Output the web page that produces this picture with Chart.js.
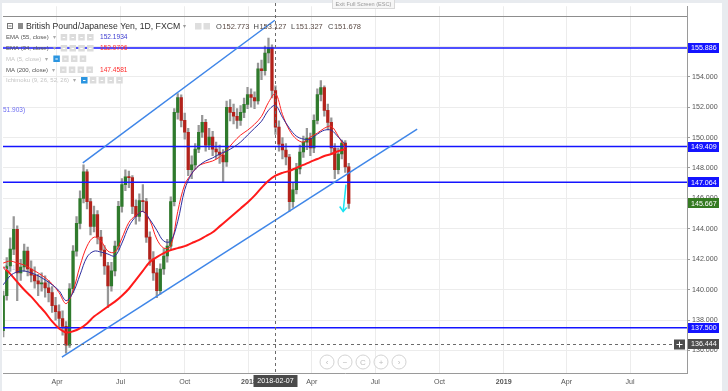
<!DOCTYPE html>
<html><head><meta charset="utf-8">
<script src="https://cdn.jsdelivr.net/npm/chart.js@4.4.1/dist/chart.umd.min.js"></script>
<style>html,body{margin:0;padding:0;background:#fff;overflow:hidden}canvas{display:block}</style>
</head><body>
<canvas id="c" width="728" height="391"></canvas>
<script>
// ---------------- DATA (x = calendar days since 2017-01-01) ----------------
const startDay = 13;      // first drawn candle
const candleStep = 5;     // days between drawn candles
const firstOpen = 137.30;
const closes = [
139.60,141.56,142.66,143.97,141.10,141.49,142.53,141.36,140.95,140.58,
140.38,140.45,140.12,139.80,138.95,138.56,138.10,137.58,136.35,140.06,
142.53,144.36,145.99,147.75,145.79,144.16,144.94,143.45,142.60,141.56,
140.25,141.23,142.86,145.47,146.90,147.42,147.36,145.47,144.81,145.86,
145.79,143.45,142.01,141.10,139.93,141.36,142.21,142.86,145.79,151.65,
152.63,151.13,150.35,147.88,148.20,149.24,150.35,151.00,149.50,150.03,
149.24,149.05,148.85,148.40,151.98,151.65,151.40,151.13,151.65,152.18,
152.83,152.63,152.40,154.52,154.39,155.56,155.89,153.09,150.68,149.57,
149.18,148.72,145.79,146.57,147.94,149.05,149.70,149.96,149.31,151.13,
152.83,153.28,151.79,151.00,149.31,147.88,148.92,149.64,148.07,145.67];
const highs = [
139.9,142.1,143.4,144.81,144.2,142.0,143.0,142.8,141.9,141.5,
141.0,141.1,140.9,140.6,140.2,139.5,139.0,138.6,137.9,140.4,
142.9,144.8,146.5,148.2,147.9,146.0,145.5,145.2,143.9,142.9,
141.8,141.8,143.2,145.8,147.3,147.88,147.8,147.5,145.9,146.3,
146.9,146.0,143.8,142.5,141.4,141.7,142.7,143.3,146.1,151.9,
152.89,152.8,151.6,150.6,148.8,149.6,150.8,151.46,151.2,150.6,
150.4,149.7,149.5,149.2,152.4,152.5,152.2,151.9,152.1,152.6,
153.3,153.2,153.0,154.9,155.1,156.02,156.54,156.1,153.4,151.1,
150.0,149.6,148.9,147.0,148.3,149.5,150.1,150.6,150.3,151.5,
153.2,153.74,153.4,152.2,151.3,149.6,149.3,149.83,149.8,148.3];
const lows = [
136.9,139.3,141.2,142.3,139.28,140.6,141.2,140.9,140.5,140.1,
139.6,139.9,139.5,139.2,138.5,138.0,137.5,137.0,135.82,136.2,
139.8,142.2,144.0,145.7,145.3,143.6,143.8,143.0,142.2,141.0,
138.82,139.9,140.9,142.6,145.1,146.5,146.7,145.0,144.3,144.5,
145.2,143.1,141.6,140.6,139.47,139.7,141.0,141.8,142.6,145.5,
151.2,150.7,149.9,147.5,147.29,147.9,149.0,150.0,149.1,149.2,
148.8,148.6,148.3,147.09,148.1,151.1,150.9,150.6,150.8,151.3,
151.9,152.0,151.9,152.2,153.8,154.1,154.9,152.6,150.2,149.1,
148.6,148.2,145.14,145.4,146.3,147.6,148.7,149.2,148.8,149.0,
150.9,152.4,151.4,150.5,148.9,147.29,147.6,148.6,147.7,145.34];

const maStep = 10;        // days between moving-average samples (from startDay)
const ma200 = [141.49,141.04,140.51,139.99,139.54,139.02,138.50,137.91,137.45,137.19,
137.26,137.45,137.78,138.23,138.56,138.89,139.21,139.60,140.06,140.64,
141.23,141.82,142.14,142.40,142.60,142.73,142.86,143.06,143.25,143.51,
143.77,144.16,144.55,144.94,145.34,145.73,146.18,146.70,147.16,147.49,
147.68,147.81,148.01,148.20,148.40,148.59,148.79,148.92,149.11,149.24];
const ema34 = [141.75,141.88,141.75,141.62,141.36,141.10,140.78,140.38,139.80,139.08,
139.93,141.56,142.86,143.45,143.19,142.53,142.47,143.38,144.42,144.88,
145.14,144.55,143.32,142.73,142.86,145.14,146.90,147.62,148.14,148.33,
148.46,148.72,149.18,149.70,150.16,150.48,150.87,151.39,152.31,152.89,
151.52,150.48,149.90,149.70,150.03,150.29,150.61,150.74,150.09,149.31];
const ema55 = [140.32,140.91,141.17,141.23,141.10,140.91,140.64,140.32,139.93,139.28,
139.80,140.97,142.14,142.53,142.47,142.34,142.21,143.06,144.16,144.81,
145.14,144.62,143.90,143.19,143.19,144.49,146.57,147.62,148.14,148.46,
148.66,148.92,149.11,149.37,149.70,150.16,150.61,151.07,151.79,152.11,
151.33,150.61,150.09,149.90,149.90,150.22,150.48,150.48,150.03,149.57];

const levels = [155.886, 149.409, 147.064, 137.500];
const lastPrice = 145.667;
const channelUpper = [[127, 148.33], [402, 157.71]];
const channelLower = [[97, 135.56], [606, 150.55]];
const arrowPts = [[504, 146.90], [500, 145.14]];
const crossDay = 402, crossDayLabel = '2018-02-07', crossPrice = 136.444;
const yTicks = [136,138,140,142,144,146,148,150,152,154,156];
const xTickDays = [90,181,273,365,455,546,638,730,820,911];
const xTickLabels = ['Apr','Jul','Oct','2018','Apr','Jul','Oct','2019','Apr','Jul'];
const legendTitle = 'British Pound/Japanese Yen, 1D, FXCM';
const ohlcLabels = ['O','H','L','C'];
const ohlcValues = ['152.773','153.127','151.327','151.678'];
const indNames = ['EMA (55, close)','EMA (34, close)','MA (5, close)','MA (200, close)','Ichimoku (9, 26, 52, 26)'];
const indValues = ['152.1934','152.9706','','147.4581',''];
const indEnabled = [true,true,false,true,false];

// ---------------- CHART ----------------
const FONT = '"Liberation Sans", Arial, sans-serif';
const X_MIN = 12.64, X_MAX = 992.6, Y_MIN = 134.52, Y_MAX = 158.63;
const UP = '#2f7a2c', DOWN = '#b3221b';
const days = closes.map((_, i) => startDay + i * candleStep);
const opens = closes.map((c, i) => i === 0 ? firstOpen : closes[i - 1]);
const maPts = arr => arr.map((v, j) => ({x: startDay + j * maStep, y: v}));
const seg = arr => arr.map(p => ({x: p[0], y: p[1]}));

const overlay = {
  id: 'overlay',
  beforeDraw(chart) {
    const c = chart.ctx;
    c.save();
    c.fillStyle = '#ffffff'; c.fillRect(0, 0, chart.width, chart.height);
    c.fillStyle = '#e8ebef';
    c.fillRect(0, 0, chart.width, 3);
    c.fillRect(0, 0, 2, chart.height);
    c.fillRect(722, 0, 6, chart.height);
    c.restore();
  },
  afterDraw(chart) {
    const c = chart.ctx, xs = chart.scales.x, ys = chart.scales.y, a = chart.chartArea;
    c.save();
    c.strokeStyle = '#8d8d8d'; c.lineWidth = 1;
    c.beginPath(); c.moveTo(a.left, 16.5); c.lineTo(a.right, 16.5); c.stroke();

    const ex = xs.getPixelForValue(arrowPts[1][0]), ey = ys.getPixelForValue(arrowPts[1][1]);
    c.strokeStyle = '#19e3f2'; c.lineWidth = 1.5;
    c.beginPath(); c.moveTo(ex - 3.5, ey - 5); c.lineTo(ex, ey); c.lineTo(ex + 3.5, ey - 4); c.stroke();

    const cx = Math.round(xs.getPixelForValue(crossDay)) + 0.5;
    const cy = Math.round(ys.getPixelForValue(crossPrice)) + 0.5;
    c.strokeStyle = '#6b6b6b'; c.lineWidth = 1; c.setLineDash([3, 3]);
    c.beginPath(); c.moveTo(cx, 3); c.lineTo(cx, a.bottom); c.stroke();
    c.beginPath(); c.moveTo(a.left, cy); c.lineTo(674, cy); c.stroke();
    c.setLineDash([]);

    c.font = '7.1px ' + FONT; c.textBaseline = 'middle'; c.textAlign = 'left';
    const tag = (v, bg) => {
      const y = ys.getPixelForValue(v);
      c.fillStyle = bg; c.fillRect(a.right + 1, Math.round(y) - 5, 31, 10);
      c.fillStyle = '#ffffff'; c.fillText(v.toFixed(3), a.right + 4, y + 0.5);
    };
    levels.forEach(v => tag(v, '#1414ff'));
    tag(lastPrice, '#357a22');
    tag(crossPrice, '#4d4d4d');
    c.fillStyle = '#4d4d4d'; c.fillRect(674, cy - 5, 11, 10);
    c.strokeStyle = '#ffffff'; c.lineWidth = 1;
    c.beginPath(); c.moveTo(676.5, cy); c.lineTo(682.5, cy); c.moveTo(679.5, cy - 3); c.lineTo(679.5, cy + 3); c.stroke();
    c.fillStyle = '#4a4a4a'; c.fillRect(cx - 22, a.bottom + 2, 44, 12);
    c.fillStyle = '#ffffff'; c.textAlign = 'center'; c.fillText(crossDayLabel, cx, a.bottom + 8.5);

    c.textAlign = 'left'; c.font = '6.5px ' + FONT;
    c.fillStyle = '#6d6df2'; c.fillText('51.903)', 3, 110);
    c.fillStyle = '#b9c6e6'; c.fillText('41.1', 3, 268);

    c.strokeStyle = '#777'; c.lineWidth = 1;
    c.strokeRect(7.5, 23.5, 5, 5);
    c.beginPath(); c.moveTo(8.5, 26); c.lineTo(11.5, 26); c.stroke();
    c.fillStyle = '#8a8a8a'; c.fillRect(18, 23, 5, 6);
    c.font = '8.7px ' + FONT; c.fillStyle = '#2f2f2f';
    c.fillText(legendTitle, 26, 26.5);
    const tw = c.measureText(legendTitle).width;
    c.font = '6px ' + FONT; c.fillStyle = '#999'; c.fillText('\u25BE', 26 + tw + 3, 26.5);
    c.fillStyle = '#dedede'; c.fillRect(195, 23, 6.5, 6.5); c.fillRect(203.5, 23, 6.5, 6.5);
    c.font = '7.5px ' + FONT;
    const ox = [216, 253.5, 291, 328];
    ohlcLabels.forEach((l, i) => {
      c.fillStyle = '#444'; c.fillText(l, ox[i], 26.5);
      const lw = c.measureText(l).width;
      c.fillStyle = '#5a4a44'; c.fillText(ohlcValues[i], ox[i] + lw + 0.5, 26.5);
    });
    const rowY = [37.5, 48.5, 59, 70, 80.5];
    const valCol = ['#3d3dd1', '#ff2b2b', '', '#ff2b2b', ''];
    indNames.forEach((n, i) => {
      const y = rowY[i];
      c.font = '6px ' + FONT;
      c.fillStyle = indEnabled[i] ? '#555' : '#c4c4c4';
      c.fillText(n, 6, y);
      const w = c.measureText(n).width;
      c.fillStyle = '#aaa'; c.fillText('\u25BE', 6 + w + 4, y);
      let bx = 6 + w + 12;
      const nBoxes = i === 4 ? 5 : 4;
      for (let k = 0; k < nBoxes; k++) {
        c.fillStyle = (!indEnabled[i] && k === 0) ? '#2b95e0' : '#dcdcdc';
        c.fillRect(bx, y - 3.5, 6.5, 6.5);
        c.fillStyle = '#ffffff'; c.fillRect(bx + 2, y - 0.5, 2.5, 1);
        bx += 8.8;
      }
      if (indValues[i]) { c.fillStyle = valCol[i]; c.font = '6.6px ' + FONT; c.fillText(indValues[i], 100, y); }
    });

    c.fillStyle = '#f6f6f6'; c.fillRect(332, 0, 63, 9);
    c.strokeStyle = '#d8d8d8'; c.strokeRect(332.5, -0.5, 62, 9);
    c.fillStyle = '#9a9a9a'; c.font = '5.6px ' + FONT; c.textAlign = 'center';
    c.fillText('Exit Full Screen (ESC)', 363.5, 4.5);

    const bxs = [327, 345, 363, 381, 399], gl = ['\u2039', '\u2212', 'C', '+', '\u203A'];
    bxs.forEach((x, i) => {
      c.beginPath(); c.arc(x, 362, 7, 0, Math.PI * 2);
      c.fillStyle = 'rgba(255,255,255,0.7)'; c.fill();
      c.strokeStyle = '#d4d4d4'; c.lineWidth = 1; c.stroke();
      c.fillStyle = '#bdbdbd'; c.font = '8px ' + FONT; c.fillText(gl[i], x, 362.5);
    });
    c.restore();
  }
};

new Chart(document.getElementById('c'), {
  type: 'bar',
  data: {
    datasets: [
      {type: 'line', data: seg(channelUpper), borderColor: '#3f86e8', borderWidth: 1.5, pointRadius: 0, order: 0},
      {type: 'line', data: seg(channelLower), borderColor: '#3f86e8', borderWidth: 1.5, pointRadius: 0, order: 0},
      {type: 'line', data: seg(arrowPts), borderColor: '#19e3f2', borderWidth: 1.5, pointRadius: 0, order: 0},
      {type: 'line', data: maPts(ema55), borderColor: '#2d2d9f', borderWidth: 1, pointRadius: 0, tension: 0.35, order: 1},
      {type: 'line', data: maPts(ema34), borderColor: '#ff2020', borderWidth: 1, pointRadius: 0, tension: 0.35, order: 1},
      {type: 'line', data: maPts(ma200), borderColor: '#ff1a1a', borderWidth: 2, pointRadius: 0, tension: 0.35, order: 1},
      ...levels.map(v => ({type: 'line', data: [{x: X_MIN, y: v}, {x: X_MAX, y: v}], borderColor: '#1414ff', borderWidth: 1.5, pointRadius: 0, order: 1.5})),
      {type: 'bar', data: days.map((d, i) => ({x: d, y: [opens[i], closes[i]]})),
       backgroundColor: closes.map((cl, i) => cl >= opens[i] ? UP : DOWN), barThickness: 2.6, grouped: false, minBarLength: 1, order: 2},
      {type: 'bar', data: days.map((d, i) => ({x: d, y: [lows[i], highs[i]]})),
       backgroundColor: '#979797', barThickness: 1.6, grouped: false, order: 3}
    ]
  },
  options: {
    responsive: false, animation: false, devicePixelRatio: 1,
    layout: {padding: {left: 3, top: 3, right: 6, bottom: 0}},
    plugins: {legend: {display: false}, tooltip: {enabled: false}},
    scales: {
      x: {
        type: 'linear', min: X_MIN, max: X_MAX, offset: false,
        grid: {color: '#ececec', offset: false, drawTicks: false},
        border: {color: '#9a9a9a'},
        afterBuildTicks: s => { s.ticks = xTickDays.map(d => ({value: d})); },
        afterFit: s => { s.height = 18; },
        ticks: {
          autoSkip: false, maxRotation: 0, padding: 5, color: '#555',
          callback: (v, i) => xTickLabels[i],
          font: ctx => ({family: FONT, size: 7.1, weight: /^\d{4}$/.test(xTickLabels[ctx.index] || '') ? 'bold' : 'normal'})
        }
      },
      y: {
        type: 'linear', position: 'right', min: Y_MIN, max: Y_MAX,
        grid: {color: '#ececec', tickColor: '#9a9a9a', tickLength: 3},
        border: {color: '#9a9a9a'},
        afterBuildTicks: s => { s.ticks = yTicks.map(v => ({value: v})); },
        afterFit: s => { s.width = 35; },
        ticks: {padding: 2, color: '#555', font: {family: FONT, size: 7.1}, callback: v => v.toFixed(3)}
      }
    }
  },
  plugins: [overlay]
});
</script>
</body></html>
